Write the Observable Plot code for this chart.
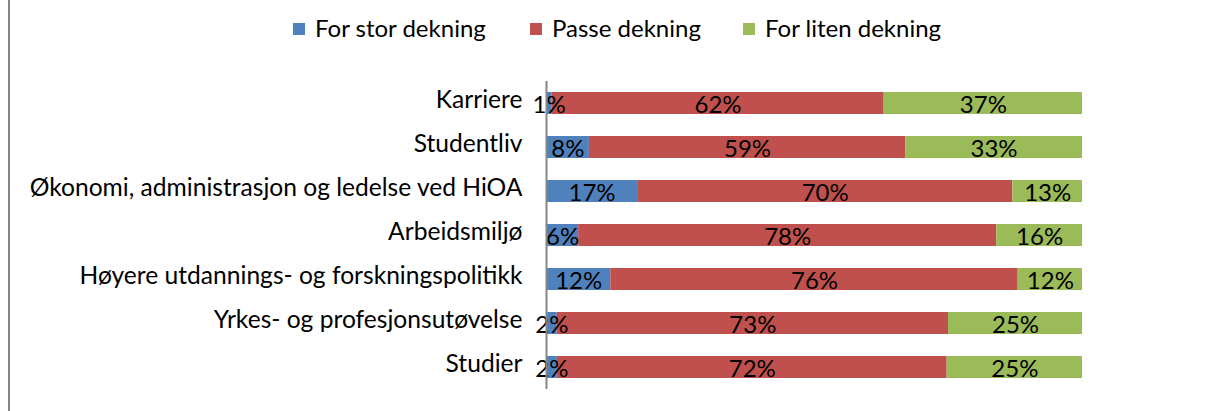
<!DOCTYPE html>
<html>
<head>
<meta charset="utf-8">
<script src="https://cdn.jsdelivr.net/npm/d3@7"></script>
<script src="https://cdn.jsdelivr.net/npm/@observablehq/plot@0.6"></script>
<style>
  html, body { margin: 0; padding: 0; background: #fff; }
  body { width: 1208px; height: 411px; position: relative; overflow: hidden; font-family: Lato, "Noto Sans", sans-serif; }
  #frame { position: absolute; left: 8px; top: 0; width: 2px; height: 411px; background: #868686; }
  #legend { position: absolute; top: 0; left: 0; width: 1208px; height: 60px; }
  .item { position: absolute; top: 13px; font-size: 24px; color: #000; white-space: nowrap; line-height: 30px; }
  .sw { display: inline-block; width: 12px; height: 12px; margin-right: 10px; vertical-align: 2px; }
  #chart { position: absolute; top: 60px; left: 0; }
</style>
</head>
<body>
<div id="frame"></div>
<div id="legend"></div>
<div id="chart"></div>
<script>
const categories = [
  "Karriere",
  "Studentliv",
  "Økonomi, administrasjon og ledelse ved HiOA",
  "Arbeidsmiljø",
  "Høyere utdannings- og forskningspolitikk",
  "Yrkes- og profesjonsutøvelse",
  "Studier"
];
const seriesNames = ["For stor dekning", "Passe dekning", "For liten dekning"];
const seriesColors = ["#4F81BD", "#C0504D", "#9BBB59"];
const forStor = [1, 8, 17, 6, 12, 2, 2];
const passe = [62, 59, 70, 78, 76, 73, 72];
const forLiten = [37, 33, 13, 16, 12, 25, 25];

const seriesValues = [forStor, passe, forLiten];
const data = [];
categories.forEach((c, i) => {
  seriesNames.forEach((s, j) => {
    data.push({category: c, series: s, value: seriesValues[j][i]});
  });
});

// legend (HTML, above the SVG)
const legendX = [293, 530, 743];
const legend = document.getElementById("legend");
seriesNames.forEach((s, j) => {
  const d = document.createElement("div");
  d.className = "item";
  d.style.left = legendX[j] + "px";
  d.innerHTML = `<span class="sw" style="background:${seriesColors[j]}"></span>${s}`;
  legend.appendChild(d);
});

const chart = Plot.plot({
  width: 1208,
  height: 351,
  marginLeft: 546,
  marginRight: 126,
  marginTop: 21,
  marginBottom: 22,
  style: {fontFamily: "Lato, 'Noto Sans', sans-serif", fontSize: "24px", color: "#000", background: "transparent"},
  x: {domain: [0, 1], axis: null},
  y: {domain: categories, paddingInner: 0.5, paddingOuter: 0.25, label: null},
  color: {domain: seriesNames, range: seriesColors},
  marks: [
    Plot.axisY({tickSize: 0, tickPadding: 24, dy: -3, fontSize: 24.6, fill: "#000"}),
    Plot.barX(data, Plot.stackX({x: "value", y: "category", z: "series", fill: "series", order: seriesNames, offset: "normalize"})),
    Plot.text(data, Plot.stackX({x: "value", y: "category", z: "series", order: seriesNames, offset: "normalize", text: d => d.value + "%", fill: "#000", fontSize: 24, dy: 2})),
    Plot.ruleX([0], {stroke: "#868686", strokeWidth: 2})
  ]
});
document.getElementById("chart").appendChild(chart);
</script>
</body>
</html>
